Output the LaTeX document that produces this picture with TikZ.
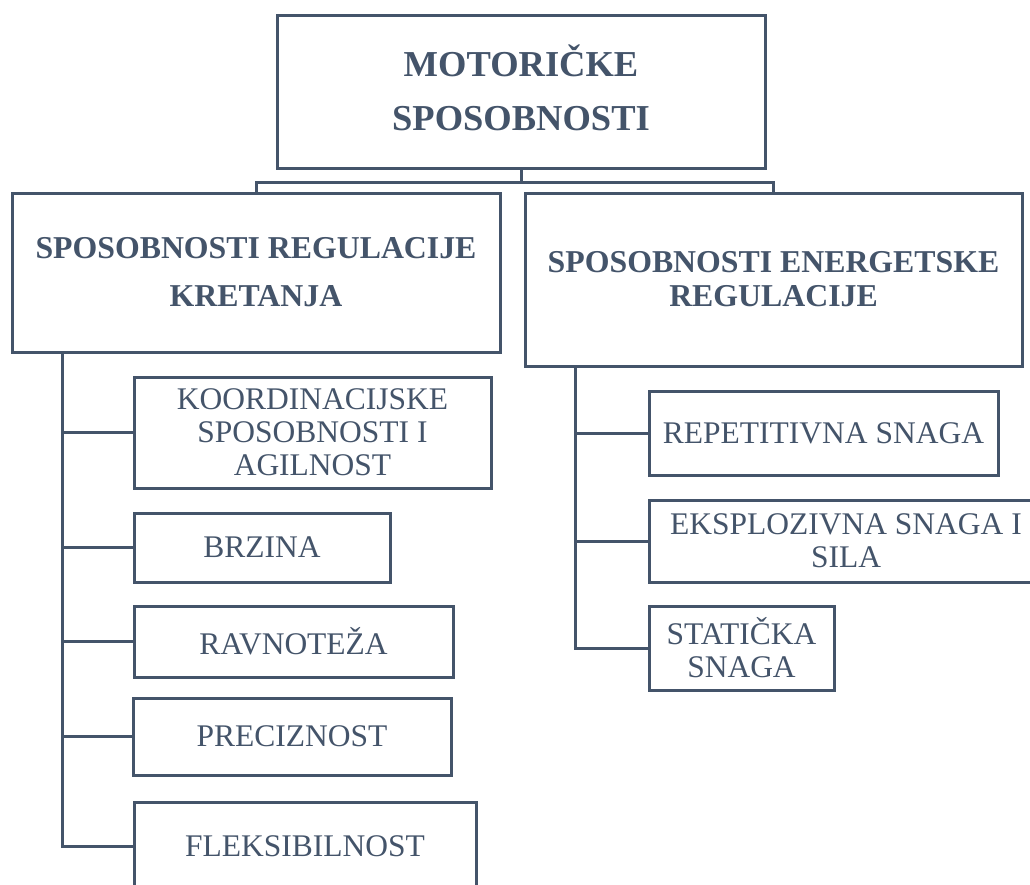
\documentclass[tikz,border=0pt]{standalone}
\usepackage{fontspec}
\setmainfont{Liberation Serif}
\definecolor{ink}{HTML}{44546A}
\tikzset{
  x=1pt, y=-1pt,
  box/.style={draw=ink, line width=3pt, fill=white, text=ink, inner sep=0pt, align=center},
  link/.style={draw=ink, line width=3pt},
  small/.style={font=\fontsize{31.5}{33}\selectfont},
  label/.style={text=ink, inner sep=0pt, align=center},
}
\newcommand{\bx}[6]{% name, x1, y1, x2, y2, options, then text
  \node[box, #6, minimum width={#4-#2}, minimum height={#5-#3}] (#1) at ({(#2+#4)/2},{(#3+#5)/2})}
\begin{document}
\begin{tikzpicture}
\useasboundingbox (0,0) rectangle (1030,884);
\clip (0,0) rectangle (1030,884);
\fill[white] (0,0) rectangle (1030,884);
% level 0
\bx{top}{277}{15}{765}{168}{}{};
\node[label, font=\bfseries\fontsize{36.5}{54}\selectfont] (toptext) at ([yshift=4pt]top.center) {MOTORIČKE\\SPOSOBNOSTI};
% level 1
\bx{L}{12}{193}{500}{352}{font=\bfseries\fontsize{31.8}{48}\selectfont}{SPOSOBNOSTI REGULACIJE\\KRETANJA};
\bx{R}{525}{193}{1022}{366}{font=\bfseries\fontsize{31.8}{34}\selectfont}{SPOSOBNOSTI ENERGETSKE\\REGULACIJE};
% left children
\bx{a1}{134}{377}{491}{488}{small}{KOORDINACIJSKE\\SPOSOBNOSTI I\\AGILNOST};
\bx{a2}{134}{513}{390}{582}{small}{BRZINA};
\bx{a3}{134}{606}{453}{677}{small}{RAVNOTEŽA};
\bx{a4}{133}{698}{451}{775}{small}{PRECIZNOST};
\bx{a5}{134}{802}{476}{890}{small}{FLEKSIBILNOST};
% right children
\bx{b1}{649}{391}{998}{475}{small}{REPETITIVNA SNAGA};
\bx{b2}{649}{500}{1043}{582}{small}{EKSPLOZIVNA SNAGA I\\SILA};
\bx{b3}{649}{606}{834}{690}{small}{STATIČKA\\SNAGA};
% connectors
\draw[link] (top.south) -- ++(0,13) coordinate (j);
\draw[link] (j) -| (L.north);
\draw[link] (j) -| (R.north);
\coordinate (lt) at (62,352);
\coordinate (rt) at (575,366);
\draw[link] (lt) |- (a5.west);
\foreach \c in {a1,a2,a3,a4} \draw[link] (\c.west) -- (\c.west -| lt);
\draw[link] (rt) |- (b3.west);
\foreach \c in {b1,b2} \draw[link] (\c.west) -- (\c.west -| rt);
\end{tikzpicture}
\end{document}
